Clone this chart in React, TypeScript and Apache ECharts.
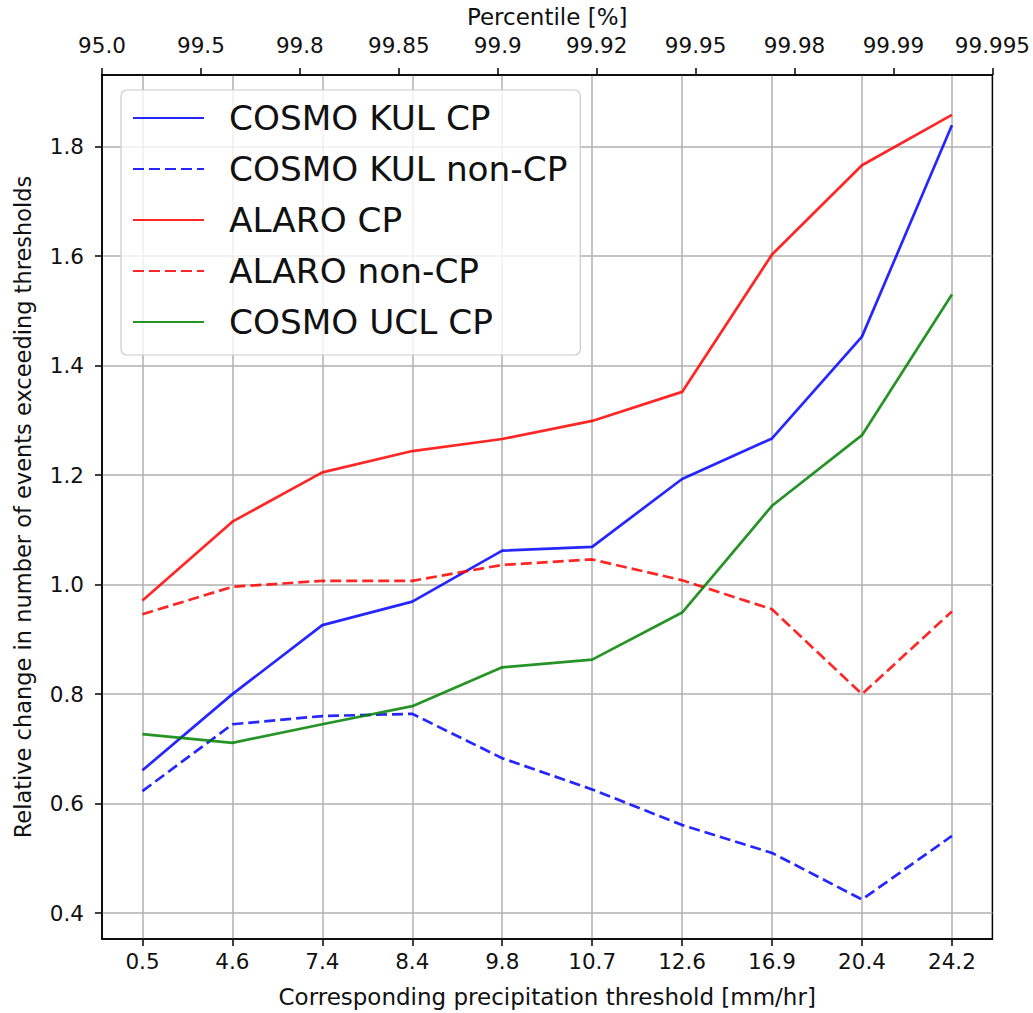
import React, { useEffect, useRef } from "react";
import * as echarts from "echarts";

const thresholds = ["0.5", "4.6", "7.4", "8.4", "9.8", "10.7", "12.6", "16.9", "20.4", "24.2"];
const percentiles = ["95.0", "99.5", "99.8", "99.85", "99.9", "99.92", "99.95", "99.98", "99.99", "99.995"];
const yTicks = [0.4, 0.6, 0.8, 1.0, 1.2, 1.4, 1.6, 1.8];

const cosmoKulCP = [0.661, 0.8, 0.926, 0.969, 1.062, 1.069, 1.193, 1.267, 1.453, 1.839];
const cosmoKulNonCP = [0.623, 0.745, 0.76, 0.764, 0.683, 0.626, 0.561, 0.51, 0.425, 0.541];
const alaroCP = [0.971, 1.115, 1.205, 1.244, 1.266, 1.299, 1.352, 1.603, 1.766, 1.858];
const alaroNonCP = [0.946, 0.996, 1.007, 1.007, 1.036, 1.046, 1.008, 0.955, 0.8, 0.951];
const cosmoUclCP = [0.727, 0.711, 0.745, 0.778, 0.849, 0.863, 0.949, 1.144, 1.273, 1.53];

const FONT = "DejaVu Sans";
const TICK_FS = 21.5;
const TITLE_FS = 23;

export default function App() {
  const ref = useRef<HTMLDivElement>(null);
  useEffect(() => {
    if (!ref.current) return;
    const chart = echarts.init(ref.current, undefined, { renderer: "svg" });
    const idx = thresholds.map((_, i) => i);
    const mk = (name: string, vals: number[], color: string, dashed: boolean) => ({
      name,
      type: "line",
      xAxisIndex: 0,
      yAxisIndex: 0,
      data: vals.map((v, i) => [i, v]),
      symbol: "none",
      color,
      lineStyle: { color, width: 2.7, type: dashed ? [11, 5] : "solid" },
      z: 3,
    });
    chart.setOption({
      animation: false,
      backgroundColor: "#ffffff",
      textStyle: { fontFamily: FONT },
      grid: {
        left: 102,
        right: 40,
        top: 71,
        bottom: 73,
        show: true,
        borderColor: "#000",
        borderWidth: 1.5,
        backgroundColor: "transparent",
      },
      legend: {
        orient: "vertical",
        left: 121,
        top: 90,
        padding: [11, 13, 16, 11],
        itemWidth: 71,
        itemHeight: 20,
        itemGap: 17,
        backgroundColor: "rgba(255,255,255,0.8)",
        borderColor: "#cccccc",
        borderWidth: 1.2,
        borderRadius: 6,
        itemStyle: { color: "rgba(0,0,0,0)", borderWidth: 0, opacity: 0 },
        textStyle: {
          fontFamily: FONT,
          fontSize: 34.3,
          color: "#111",
          lineHeight: 34,
          padding: [0, 0, 0, 20],
        },
        data: ["COSMO KUL CP", "COSMO KUL non-CP", "ALARO CP", "ALARO non-CP", "COSMO UCL CP"],
      },
      xAxis: [
        {
          type: "value",
          min: -0.45,
          max: 9.45,
          position: "bottom",
          name: "Corresponding precipitation threshold [mm/hr]",
          nameLocation: "middle",
          nameGap: 46,
          nameTextStyle: { fontFamily: FONT, fontSize: TITLE_FS, color: "#111" },
          axisLine: { show: true, onZero: false, lineStyle: { color: "#000", width: 1.5 } },
          axisTick: { show: true, length: 7, lineStyle: { color: "#000", width: 1.5 }, customValues: idx },
          axisLabel: {
            customValues: idx,
            formatter: (v: number) => thresholds[Math.round(v)] ?? "",
            fontFamily: FONT,
            fontSize: TICK_FS,
            color: "#111",
            margin: 11,
          },
          splitLine: { show: true, lineStyle: { color: "#b0b0b0", width: 1.5 } },
        },
        {
          type: "category",
          data: percentiles,
          boundaryGap: false,
          position: "top",
          name: "Percentile [%]",
          nameLocation: "middle",
          nameGap: 47,
          nameTextStyle: { fontFamily: FONT, fontSize: TITLE_FS, color: "#111" },
          axisLine: { show: true, onZero: false, lineStyle: { color: "#000", width: 1.5 } },
          axisTick: { show: true, length: 7, interval: 0, lineStyle: { color: "#000", width: 1.5 } },
          axisLabel: { interval: 0, fontFamily: FONT, fontSize: TICK_FS, color: "#111", margin: 19 },
          splitLine: { show: false },
        },
      ],
      yAxis: [
        {
          type: "value",
          min: 0.3528,
          max: 1.9308,
          name: "Relative change in number of events exceeding thresholds",
          nameLocation: "middle",
          nameGap: 68,
          nameTextStyle: { fontFamily: FONT, fontSize: TITLE_FS - 0.5, color: "#111" },
          axisLine: { show: true, onZero: false, lineStyle: { color: "#000", width: 1.5 } },
          axisTick: { show: true, length: 7, lineStyle: { color: "#000", width: 1.5 }, customValues: yTicks },
          axisLabel: {
            customValues: yTicks,
            formatter: (v: number) => v.toFixed(1),
            fontFamily: FONT,
            fontSize: TICK_FS,
            color: "#111",
            margin: 18,
          },
          splitLine: { show: true, lineStyle: { color: "#b0b0b0", width: 1.5 } },
        },
      ],
      series: [
        mk("COSMO KUL CP", cosmoKulCP, "rgba(0,0,255,0.85)", false),
        mk("COSMO KUL non-CP", cosmoKulNonCP, "rgba(0,0,255,0.85)", true),
        mk("ALARO CP", alaroCP, "rgba(255,0,0,0.85)", false),
        mk("ALARO non-CP", alaroNonCP, "rgba(255,0,0,0.85)", true),
        mk("COSMO UCL CP", cosmoUclCP, "rgba(0,128,0,0.85)", false),
      ],
    });
    return () => chart.dispose();
  }, []);
  return (
    <div
      ref={ref}
      style={{ position: "absolute", left: 0, top: 0, width: 1033, height: 1013, background: "#fff" }}
    />
  );
}
